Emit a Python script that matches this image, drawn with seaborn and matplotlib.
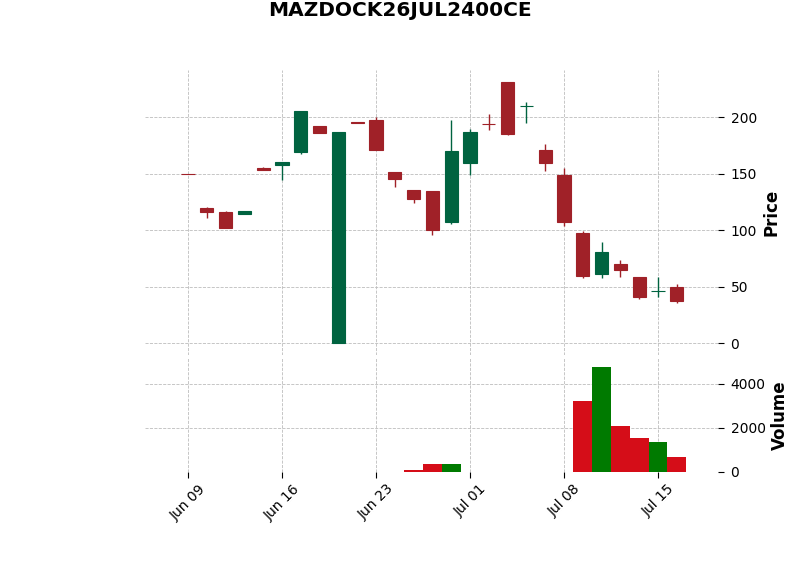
import numpy as np
import pandas as pd
import matplotlib
matplotlib.use("Agg")
import matplotlib.pyplot as plt
import seaborn as sns

title = "MAZDOCK26JUL2400CE"

opens  = [149.5, 119.8, 116.3, 114.5, 155.2, 157.8, 169.3, 192.3, 0.0, 195.8,
          197.6, 151.6, 135.7, 134.6, 107.2, 159.6, 194.5, 231.2, 209.8, 171.1,
          149.0, 97.8, 61.5, 70.1, 58.6, 46.3, 49.8]
highs  = [149.5, 120.3, 117.5, 117.2, 156.4, 160.5, 205.5, 192.3, 187.0, 195.8,
          200.2, 151.6, 135.7, 134.6, 197.9, 189.9, 203.2, 231.2, 213.8, 176.7,
          155.5, 99.5, 89.8, 74.2, 58.6, 58.9, 52.1]
lows   = [149.5, 111.3, 102.2, 114.5, 153.4, 144.3, 167.8, 186.1, 0.0, 195.3,
          170.8, 138.4, 124.3, 96.3, 106.0, 148.7, 188.5, 184.0, 195.2, 152.8,
          104.2, 58.0, 57.4, 58.9, 39.5, 40.6, 35.9]
closes = [149.5, 116.3, 102.2, 117.2, 153.4, 160.5, 205.5, 186.1, 187.0, 195.3,
          170.8, 145.2, 127.5, 100.1, 170.2, 187.0, 194.0, 184.9, 210.3, 159.6,
          107.2, 59.5, 80.7, 65.1, 40.9, 46.7, 37.4]
volumes = [0, 0, 0, 0, 0, 0, 0, 0, 0, 0,
           0, 0, 50, 350, 350, 0, 0, 0, 0, 0,
           0, 3200, 4740, 2075, 1534, 1353, 677]

tick_positions = [0, 5, 10, 15, 20, 25]
tick_labels = ["Jun 09", "Jun 16", "Jun 23", "Jul 01", "Jul 08", "Jul 15"]
price_ticks = [0, 50, 100, 150, 200]
volume_ticks = [0, 2000, 4000]

UP, DOWN = "#006340", "#a02128"
VUP, VDOWN = "#007a00", "#d50d18"

sns.set_style("white")
plt.rcParams['font.family'] = ['DejaVu Sans']
plt.rcParams.update({"text.color": "black", "axes.labelcolor": "black",
                     "xtick.color": "black", "ytick.color": "black"})

df = pd.DataFrame({"open": opens, "high": highs, "low": lows,
                   "close": closes, "volume": volumes})
df["idx"] = np.arange(len(df))
df["dir"] = np.where(df["close"] > df["open"], "up", "down")

fig = plt.figure(figsize=(8, 5.75), dpi=100)
L, W = 145 / 800, (718 - 145) / 800
ax = fig.add_axes([L, 0.3826, W, 0.4957])
axv = fig.add_axes([L, 0.18, W, 0.1974], sharex=ax)

grid_kw = dict(color="#bdbdbd", linestyle="--", linewidth=0.6)

# candles
for _, r in df.iterrows():
    c = UP if r["dir"] == "up" else DOWN
    ax.vlines(r["idx"], r["low"], r["high"], color=c, linewidth=1.0, zorder=3)
    lo = min(r["open"], r["close"])
    h = abs(r["close"] - r["open"])
    ax.bar(r["idx"], h, bottom=lo, width=0.7, color=c, edgecolor=c,
           linewidth=0.8, zorder=4)

# volume
sns.barplot(data=df, x="idx", y="volume", hue="dir",
            palette={"up": VUP, "down": VDOWN}, native_scale=True,
            dodge=False, width=1.0, linewidth=0, saturation=1,
            legend=False, ax=axv, zorder=3)

ax.set_xlim(-2.29, 28.19)
ax.set_ylim(-10.3, 241.9)
axv.set_ylim(0, 5170)

for a in (ax, axv):
    a.grid(True, **grid_kw)
    a.set_axisbelow(True)
    for s in a.spines.values():
        s.set_visible(False)
    a.yaxis.tick_right()
    a.yaxis.set_label_position("right")
    a.tick_params(axis="y", which="both", length=4, width=0.8, color="black",
                  labelsize=10, pad=5, left=False, right=True)
    a.tick_params(axis="x", length=4, width=0.8, color="black", labelsize=10)

ax.set_yticks(price_ticks)
axv.set_yticks(volume_ticks)
axv.set_xticks(tick_positions)
axv.set_xticklabels(tick_labels, rotation=45, ha="center")
ax.tick_params(axis="x", bottom=False, labelbottom=False)
axv.tick_params(axis="x", bottom=True)

ax.set_ylabel("Price", fontsize=12, fontweight="bold", labelpad=4)
axv.set_ylabel("Volume", fontsize=12, fontweight="bold", labelpad=4)
axv.set_xlabel("")

fig.text(0.5, 1 - 11 / 575, title, ha="center", va="center",
         fontsize=14.5, fontweight="bold")

fig.savefig("out.png", dpi=100)
